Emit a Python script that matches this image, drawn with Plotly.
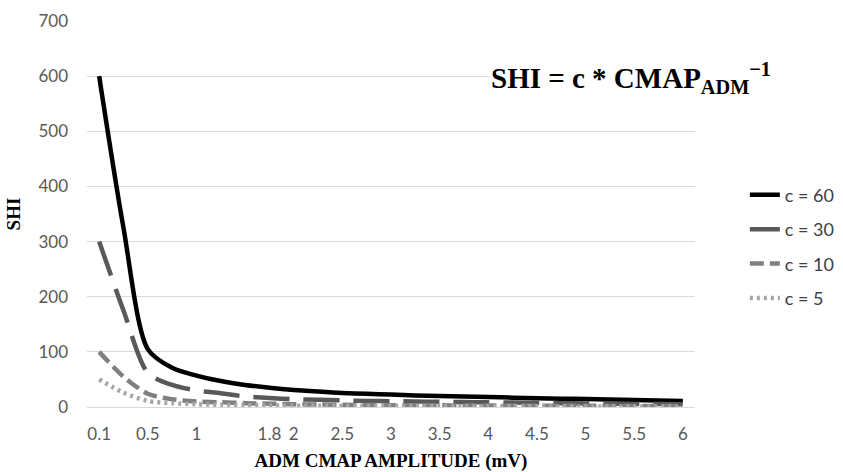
import plotly.graph_objects as go

# Category positions on the x axis (ADM CMAP amplitude, mV)
categories = ["0.1", "0.25", "0.5", "0.75", "1", "1.25", "1.5", "1.75", "2", "2.25",
              "2.5", "2.75", "3", "3.25", "3.5", "3.75", "4", "4.25", "4.5", "4.75",
              "5", "5.25", "5.5", "5.75", "6"]
tick_vals = ["0.1", "0.5", "1", "1.75", "2", "2.5", "3", "3.5", "4", "4.5", "5", "5.5", "6"]
tick_text = ["0.1", "0.5", "1", "1.8", "2", "2.5", "3", "3.5", "4", "4.5", "5", "5.5", "6"]

# SHI values
shi_c60 = [600, 325, 105, 71, 57, 47, 40, 35, 31, 28, 25.5, 24, 22.5, 21, 20, 19, 18, 17,
           16, 15, 14.5, 13.5, 12.5, 12, 11]
shi_c30 = [300, 175, 62, 40, 30, 25, 19, 16.5, 14, 13, 12, 11, 10.5, 10, 9.5, 9, 8.5, 8,
           7.5, 7, 6.5, 6, 5.5, 5.5, 5]
shi_c10 = [100, 55, 24, 14, 10, 8.5, 7, 6, 5, 4.5, 4, 3.7, 3.4, 3.2, 3, 2.8, 2.6, 2.5,
           2.3, 2.2, 2.1, 2, 1.9, 1.8, 1.7]
shi_c5 = [50, 26, 11, 7, 5, 4, 3.3, 2.9, 2.5, 2.2, 2, 1.8, 1.7, 1.6, 1.5, 1.4, 1.3, 1.2,
          1.15, 1.1, 1.05, 1, 0.95, 0.9, 0.85]

series = [
    ("c = 60", shi_c60, "#000000", 4.5, "solid"),
    ("c = 30", shi_c30, "#595959", 4.5, "36px,14px"),
    ("c = 10", shi_c10, "#808080", 4.5, "14px,6px"),
    ("c = 5", shi_c5, "#a6a6a6", 4.5, "3px,4px"),
]

fig = go.Figure()
for name, vals, color, width, dash in series:
    fig.add_trace(go.Scatter(
        x=categories, y=vals, name=name, mode="lines", legendgroup=name,
        line=dict(color=color, width=width, dash=dash, shape="spline", smoothing=0.8),
    ))

fig.add_annotation(
    text="<b>SHI = c * CMAP<sub>ADM</sub><sup>−1</sup></b>",
    xref="paper", yref="paper", x=0.661, y=0.852, xanchor="left", yanchor="middle",
    showarrow=False, bgcolor="white",
    font=dict(family="Liberation Serif", size=29, color="#000000"),
)

fig.update_layout(
    width=843, height=472,
    margin=dict(l=87, r=148, t=21, b=65, autoexpand=False),
    paper_bgcolor="white", plot_bgcolor="white",
    showlegend=True,
    legend=dict(
        x=1.082, y=0.4155, xanchor="left", yanchor="middle",
        font=dict(family="Lato", size=18, color="#404040"),
        tracegroupgap=8, bgcolor="rgba(0,0,0,0)",
    ),
    xaxis=dict(
        type="category", categoryorder="array", categoryarray=categories,
        range=[-0.5, 24.5], showgrid=False, zeroline=False, automargin=False,
        showline=True, linecolor="#d9d9d9", linewidth=1,
        tickvals=tick_vals, ticktext=tick_text, ticks="",
        tickfont=dict(family="Lato", size=17, color="#595959"),
        ticklabelstandoff=12,
        title=dict(text="<b>ADM CMAP AMPLITUDE (mV)</b>", standoff=12,
                   font=dict(family="Liberation Serif", size=19, color="#000000")),
    ),
    yaxis=dict(
        range=[0, 700], dtick=100, showgrid=True, gridcolor="#d9d9d9", gridwidth=1,
        zeroline=False, showline=False, ticks="", automargin=False,
        tickfont=dict(family="Lato", size=17, color="#595959"),
        ticklabelstandoff=18,
        title=dict(text="<b>SHI</b>", standoff=12,
                   font=dict(family="Liberation Serif", size=19, color="#000000")),
    ),
)

fig.write_html("out.html")
